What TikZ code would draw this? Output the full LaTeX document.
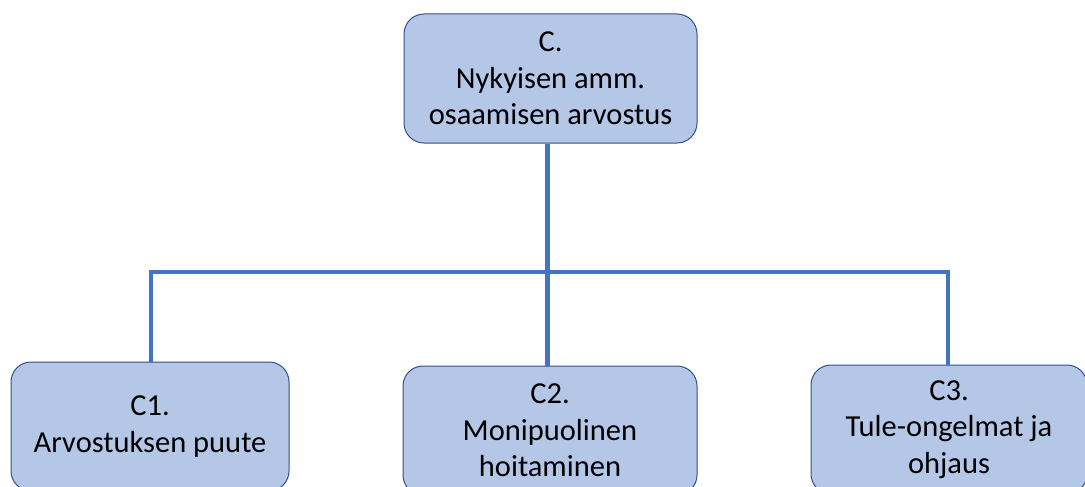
\documentclass[tikz,border=0pt]{standalone}
\usepackage{fontspec}
\setmainfont{Carlito}
\definecolor{boxfill}{HTML}{B4C7E7}
\definecolor{boxline}{HTML}{2F528F}
\definecolor{wire}{HTML}{4472C4}
\begin{document}
\begin{tikzpicture}[x=1pt,y=-1pt,
  box/.style={draw=boxline, line width=1pt, fill=boxfill, rounded corners=20pt,
    minimum height=129pt, align=center, inner sep=0pt,
    font=\fontsize{30.5pt}{36.5pt}\selectfont, text=black},
  wireline/.style={draw=wire, line width=4.5pt}]
  \useasboundingbox (0,0) rectangle (1085,487);
  % boxes
  \node[box, minimum width=293pt] (top) at (550.5,78.5) {C.\\Nykyisen amm.\\osaamisen arvostus};
  \node[box, minimum width=278pt] (c1) at (150,426.5) {C1.\\Arvostuksen puute};
  \node[box, minimum width=294pt] (c2) at (550,430.5) {C2.\\Monipuolinen\\hoitaminen};
  \node[box, minimum width=276pt] (c3) at (949,429.5) {C3.\\Tule-ongelmat ja\\ohjaus};
  % connector bus
  \coordinate (j) at (547.5,272);
  \coordinate (l) at (151,272);
  \coordinate (r) at (948,272);
  \draw[wireline] (j |- top.south) -- (j |- c2.north);
  \draw[wireline] (l |- c1.north) -- (l) -- (r) -- (r |- c3.north);
\end{tikzpicture}
\end{document}
